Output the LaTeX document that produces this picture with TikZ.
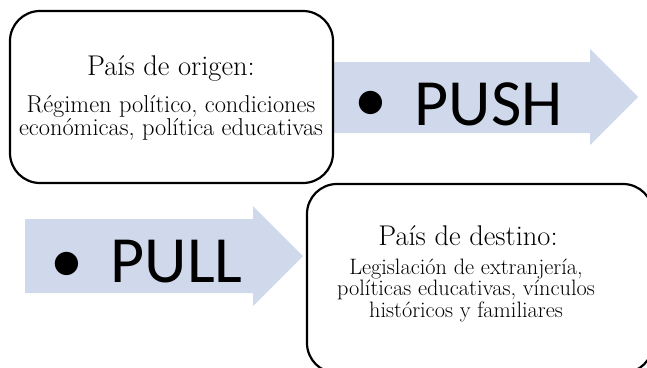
\documentclass[tikz,border=0pt]{standalone}
\usepackage{fontspec}
\newfontfamily\carlito{Carlito}
\definecolor{arrowfill}{RGB}{208,216,235}
\tikzset{
  box/.style={draw=black, line width=2.2pt, rounded corners=30pt, fill=white},
  arrowshape/.style={fill=arrowfill, draw=none},
  title/.style={anchor=base, font=\fontsize{28.5}{30}\selectfont, inner sep=0pt},
  body/.style={anchor=base, align=center, font=\fontsize{24.4}{21.8}\selectfont, inner sep=0pt},
  smallbody/.style={body, font=\fontsize{22.3}{21.5}\selectfont},
  big/.style={anchor=base, font=\carlito\fontsize{66}{70}\selectfont, inner sep=0pt},
  bul/.style={anchor=center, font=\carlito\fontsize{66}{70}\selectfont, inner sep=0pt}
}
\begin{document}
\begin{tikzpicture}[x=1pt,y=-1pt]
\useasboundingbox (0,0) rectangle (647,367);
\clip (0,0) rectangle (647,367);
% arrows
\fill[arrowshape] (330,62) -- (590,62) -- (590,49) -- (638,97) -- (590,145) -- (590,133) -- (330,133) -- cycle;
\fill[arrowshape] (25,219) -- (253,219) -- (253,206) -- (303,256) -- (253,306) -- (253,293) -- (25,293) -- cycle;
% boxes
\draw[box] (10,11) rectangle (333,183);
\draw[box] (307,184) rectangle (653,373);
% box 1 text
\node[title] (t1) at (171,75) {País de origen:};
\node[body] (b1) at (171,135) {Régimen político, condiciones\\económicas, política educativas};
% box 2 text
\node[title] (t2) at (468,245) {País de destino:};
\node[smallbody] (b2) at (466,317) {Legislación de extranjería,\\políticas educativas, vínculos\\históricos y familiares};
% arrow labels
\node[big] (push) at (488.5,125) {PUSH};
\node[bul] (pushb) at (370.5,106) {•};
\node[big] (pull) at (176.5,282) {PULL};
\node[bul] (pullb) at (66.5,267) {•};
\end{tikzpicture}
\end{document}
